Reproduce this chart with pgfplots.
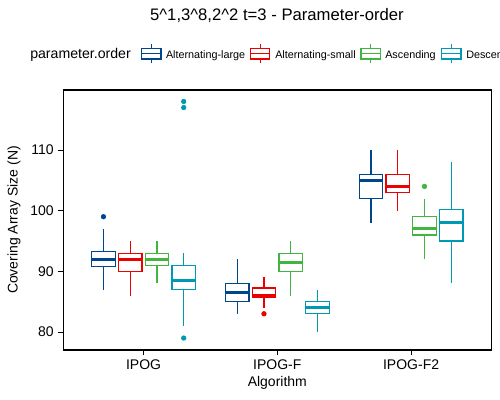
\documentclass[border=0pt]{standalone}
\usepackage{pgfplots}
\pgfplotsset{compat=1.18}
\usepgfplotslibrary{statistics}
\usepackage{fontspec}
\setmainfont{Liberation Sans}
\definecolor{cA}{HTML}{00468B}
\definecolor{cB}{HTML}{ED0000}
\definecolor{cC}{HTML}{42B540}
\definecolor{cD}{HTML}{0099B4}
\newcommand{\legkey}[2]{%
  \draw[#1, line width=0.9pt] (#2+7.2,252.5)--(#2+7.2,255.75) (#2+7.2,263.75)--(#2+7.2,267);
  \draw[#1, line width=0.9pt] (#2,255.75) rectangle (#2+14.4,263.75);
  \draw[#1, line width=0.9pt] (#2,259.75)--(#2+14.4,259.75);}
\pgfplotsset{
  bx/.style={color=#1, solid, line width=0.9pt, mark=*, mark size=1.7pt,
    mark options={solid, fill=#1, draw=#1, line width=0.5pt},
    boxplot/whisker extend=0, boxplot/box extend=0.175,
    boxplot/every median/.style={line width=2.2pt}},
}
\begin{document}
\begin{tikzpicture}[x=1pt,y=1pt]
\useasboundingbox (0,0) rectangle (375,300);
\begin{axis}[at={(47.5pt,37.5pt)}, anchor=south west, scale only axis,
  width=321pt, height=195pt,
  xmin=0.4, xmax=3.6, ymin=77.03, ymax=119.89,
  xtick={1,2,3}, xticklabels={IPOG,IPOG-F,IPOG-F2},
  ytick={80,90,100,110},
  tick pos=left, tick align=outside, major tick length=3.75pt,
  tick style={black, line width=0.7pt},
  axis line style={black, line width=0.9pt},
  ticklabel style={font=\fontsize{10.5}{12}\selectfont, text=black},
  /pgf/number format/assume math mode=true,
  xlabel={Algorithm}, ylabel={Covering Array Size (N)},
  label style={font=\fontsize{10.5}{12}\selectfont},
  xlabel style={at={(axis description cs:0.5,-0.141)}, anchor=base},
  ylabel style={at={(axis description cs:-0.1152,0.5)}, anchor=center},
  boxplot/draw direction=y,
]
% IPOG
\addplot[bx=cA, boxplot prepared={draw position=0.7, lower whisker=87, lower quartile=90.75, median=92, upper quartile=93.25, upper whisker=97}] coordinates {(0,99)};
\addplot[bx=cB, boxplot prepared={draw position=0.9, lower whisker=86, lower quartile=90, median=92, upper quartile=93, upper whisker=95}] coordinates {};
\addplot[bx=cC, boxplot prepared={draw position=1.1, lower whisker=88, lower quartile=91, median=92, upper quartile=93, upper whisker=95}] coordinates {};
\addplot[bx=cD, boxplot prepared={draw position=1.3, lower whisker=81, lower quartile=87, median=88.5, upper quartile=91, upper whisker=93}] coordinates {(0,79) (0,117) (0,118)};
% IPOG-F
\addplot[bx=cA, boxplot prepared={draw position=1.7, lower whisker=83, lower quartile=85, median=86.5, upper quartile=88, upper whisker=92}] coordinates {};
\addplot[bx=cB, boxplot prepared={draw position=1.9, lower whisker=84, lower quartile=85.75, median=86, upper quartile=87.25, upper whisker=89}] coordinates {(0,83)};
\addplot[bx=cC, boxplot prepared={draw position=2.1, lower whisker=86, lower quartile=90, median=91.5, upper quartile=93, upper whisker=95}] coordinates {};
\addplot[bx=cD, boxplot prepared={draw position=2.3, lower whisker=80, lower quartile=83, median=84, upper quartile=85, upper whisker=87}] coordinates {};
% IPOG-F2
\addplot[bx=cA, boxplot prepared={draw position=2.7, lower whisker=98, lower quartile=102, median=105, upper quartile=106, upper whisker=110}] coordinates {};
\addplot[bx=cB, boxplot prepared={draw position=2.9, lower whisker=100, lower quartile=103, median=104, upper quartile=106, upper whisker=110}] coordinates {};
\addplot[bx=cC, boxplot prepared={draw position=3.1, lower whisker=92, lower quartile=96, median=97, upper quartile=99, upper whisker=102}] coordinates {(0,104)};
\addplot[bx=cD, boxplot prepared={draw position=3.3, lower whisker=88, lower quartile=95, median=98, upper quartile=100.25, upper whisker=108}] coordinates {};
\end{axis}
% title
\node[anchor=base, inner sep=0, font=\fontsize{12.5}{14}\selectfont] at (207.75,284.5) {5\textasciicircum 1,3\textasciicircum 8,2\textasciicircum 2 t=3 - Parameter-order};
% legend
\node[anchor=base west, inner sep=0, font=\fontsize{10.6}{12}\selectfont] at (22.5,256) {parameter.order};
\legkey{cA}{106.3}
\legkey{cB}{188}
\legkey{cC}{270.75}
\legkey{cD}{331.3}
\node[anchor=base west, inner sep=0, font=\fontsize{8.1}{9}\selectfont] at (124.3,256) {Alternating-large};
\node[anchor=base west, inner sep=0, font=\fontsize{8.1}{9}\selectfont] at (206.25,256) {Alternating-small};
\node[anchor=base west, inner sep=0, font=\fontsize{8.1}{9}\selectfont] at (288.75,256) {Ascending};
\node[anchor=base west, inner sep=0, font=\fontsize{8.1}{9}\selectfont] at (349.5,256) {Descending};
\end{tikzpicture}
\end{document}
